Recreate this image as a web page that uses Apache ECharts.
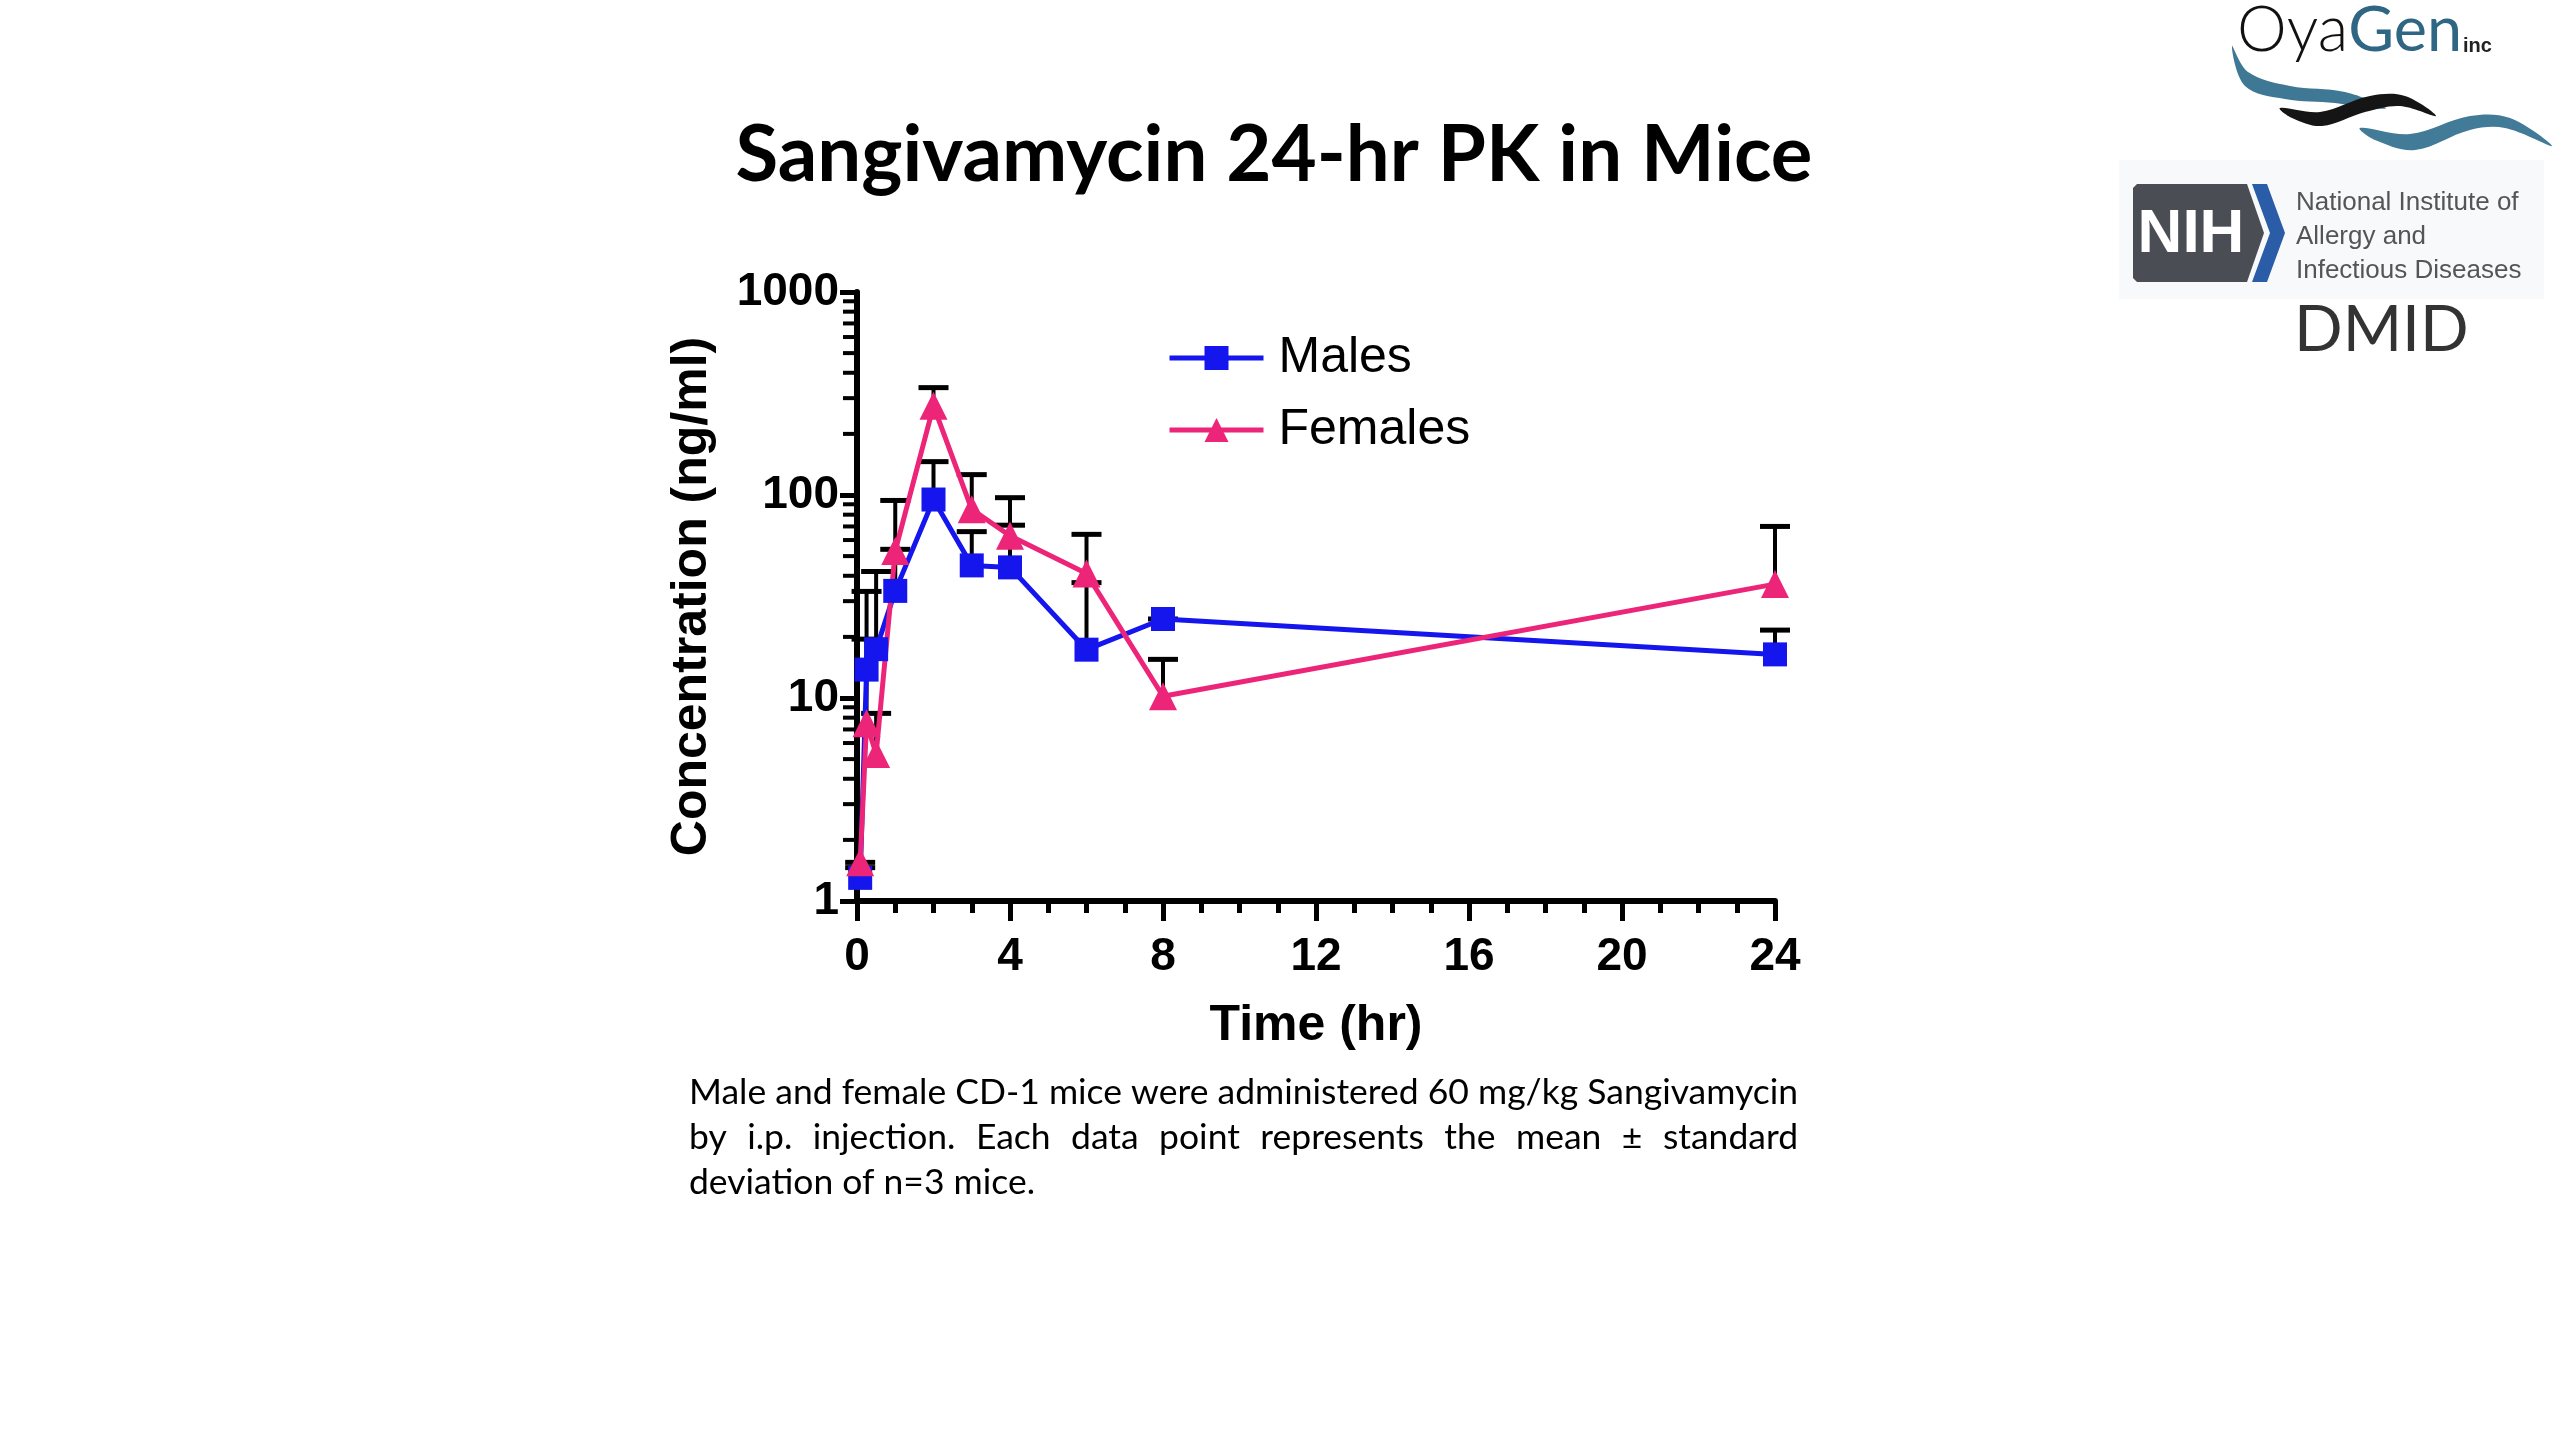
<!DOCTYPE html>
<html><head><meta charset="utf-8">
<script src="https://cdn.jsdelivr.net/npm/echarts@6/dist/echarts.min.js"></script>
<style>html,body{margin:0;padding:0;background:#fff}#c{width:2560px;height:1440px}</style>
</head><body><div id="c"></div>
<script>
// ---- data ----
const timeHr      = [0.083, 0.25, 0.5, 1, 2, 3, 4, 6, 8, 24];
const maleMean    = [1.3, 13.8, 17.4, 33.7, 95, 45, 44, 17.3, 24.5, 16.4];
const maleUpper   = [1.46, 33.5, 42, 54, 146, 66, 71, 37, 24.5, 21.6];
const femaleMean  = [1.55, 7.5, 5.3, 53, 275, 85, 63, 41, 10.2, 36.4];
const femaleUpper = [1.55, 19.5, 8.4, 94, 338, 126, 97, 64, 15.5, 70];
const yMinorTicks = [2,3,4,5,6,7,8,9,20,30,40,50,60,70,80,90,200,300,400,500,600,700,800,900];
const seriesNames = ['Males', 'Females'];

const titleText = 'Sangivamycin 24-hr PK in Mice';
const captionLines = [
  'Male and female CD-1 mice were administered 60 mg/kg Sangivamycin',
  'by i.p. injection. Each data point represents the mean \u00b1 standard',
  'deviation of n=3 mice.'
];

const BLUE = '#1515ee', PINK = '#ec2579';

const ctx = document.createElement('canvas').getContext('2d');
function textW(s, font) { ctx.font = font; return ctx.measureText(s).width; }

const graphics = [];
// Title
const titleFs = 100 * 1077 / textW(titleText, 'bold 100px Lato');
graphics.push({type:'text', x:1274, y:156, style:{text:titleText, fontFamily:'Lato', fontWeight:'bold', fontSize:titleFs, fill:'#000', align:'center', verticalAlign:'middle'}});

// Caption (justified)
const capL = 689, capR = 1798;
const capFs = 100 * (capR - capL) / textW(captionLines[0], '100px Lato');
const capMid = [1093, 1138, 1183];
captionLines.forEach((line, li) => {
  const font = capFs + 'px Lato';
  if (li === captionLines.length - 1) {
    graphics.push({type:'text', x:capL, y:capMid[li], style:{text:line, fontFamily:'Lato', fontSize:capFs, fill:'#000', align:'left', verticalAlign:'middle'}});
    return;
  }
  const words = line.split(' ');
  const wsum = words.reduce((a, w) => a + textW(w, font), 0);
  const gap = (capR - capL - wsum) / (words.length - 1);
  let x = capL;
  words.forEach(w => {
    graphics.push({type:'text', x:x, y:capMid[li], style:{text:w, fontFamily:'Lato', fontSize:capFs, fill:'#000', align:'left', verticalAlign:'middle'}});
    x += textW(w, font) + gap;
  });
});

// OyaGen logo
graphics.push({type:'polygon', shape:{points:[[2232,46],[2248,72],[2290,86],[2345,92],[2386,108],[2370,108],[2335,103],[2285,99],[2245,86]], smooth:0.35}, style:{fill:'#3f7894'}});
graphics.push({type:'polygon', shape:{points:[[2280,108],[2320,112],[2370,96],[2405,96],[2436,116],[2400,106],[2365,112],[2322,126],[2292,118]], smooth:0.35}, style:{fill:'#151515'}});
graphics.push({type:'polygon', shape:{points:[[2360,128],[2410,134],[2470,116],[2510,118],[2552,146],[2505,128],[2470,130],[2415,150],[2375,140]], smooth:0.35}, style:{fill:'#427b97'}});
const wOya = textW('Oya', '300 100px Lato'), wGen = textW('Gen', '100px Lato');
const oyaFs = 100 * 225 / (wOya + wGen);
const genX = 2237 + wOya * oyaFs / 100;
graphics.push({type:'text', x:2237, y:31, style:{text:'Oya', fontFamily:'Lato', fontWeight:300, fontSize:oyaFs, fill:'#111', verticalAlign:'middle'}});
graphics.push({type:'text', x:genX, y:31, style:{text:'Gen', fontFamily:'Lato', fontWeight:'normal', fontSize:oyaFs, fill:'#2f6683', verticalAlign:'middle'}});
graphics.push({type:'text', x:2463, y:46, style:{text:'inc', fontFamily:'Liberation Sans', fontWeight:'bold', fontSize:20, fill:'#222', verticalAlign:'middle'}});

// NIH logo
graphics.push({type:'rect', shape:{x:2119, y:160, width:425, height:139}, style:{fill:'#f7f9fb'}});
graphics.push({type:'polygon', shape:{points:[[2133,188],[2137,184],[2247,184],[2264,233],[2247,282],[2137,282],[2133,278]]}, style:{fill:'#4b4d55'}});
graphics.push({type:'polygon', shape:{points:[[2252,184],[2267,184],[2285,233],[2267,282],[2252,282],[2270,233]]}, style:{fill:'#2a5ca8'}});
graphics.push({type:'text', x:2191, y:235, style:{text:'NIH', fontFamily:'Liberation Sans', fontWeight:'bold', fontSize:62, fill:'#fff', align:'center', verticalAlign:'middle'}});
['National Institute of', 'Allergy and', 'Infectious Diseases'].forEach((t, i) => {
  graphics.push({type:'text', x:2296, y:[203, 237, 271][i], style:{text:t, fontFamily:'Liberation Sans', fontSize:26, fill:'#555', align:'left', verticalAlign:'middle'}});
});
graphics.push({type:'text', x:2294, y:330, style:{text:'DMID', fontFamily:'Lato', fontSize:64, fill:'#333', align:'left', verticalAlign:'middle'}});

const errData = (mean, up) => timeHr.map((t, i) => [t, mean[i], up[i]]);
function errRender(params, api) {
  const t = api.value(0), m = api.value(1), u = api.value(2);
  const p0 = api.coord([t, m]), p1 = api.coord([t, u]);
  return {type:'group', children:[
    {type:'line', shape:{x1:p0[0], y1:p0[1], x2:p1[0], y2:p1[1]}, style:{stroke:'#000', lineWidth:4}},
    {type:'line', shape:{x1:p1[0]-15, y1:p1[1], x2:p1[0]+15, y2:p1[1]}, style:{stroke:'#000', lineWidth:5}}
  ]};
}

const chart = echarts.init(document.getElementById('c'), null, {renderer:'canvas'});
chart.setOption({
  animation:false,
  backgroundColor:'#fff',
  grid:{left:857, right:785, top:292, bottom:539, containLabel:false},
  legend:{data:seriesNames, orient:'vertical', left:1162, top:328, itemWidth:94, itemHeight:30, itemGap:22,
    lineStyle:{width:5},
    textStyle:{fontFamily:'Liberation Sans', fontSize:50, color:'#000', padding:[0,0,0,10]}},
  xAxis:{type:'value', min:0, max:24, interval:4,
    name:'Time (hr)', nameLocation:'middle', nameGap:100,
    nameTextStyle:{fontFamily:'Liberation Sans', fontWeight:'bold', fontSize:50, color:'#000'},
    axisLine:{show:true, lineStyle:{color:'#000', width:6}},
    axisTick:{show:true, length:20, lineStyle:{color:'#000', width:5}},
    minorTick:{show:true, splitNumber:4, length:12, lineStyle:{color:'#000', width:5}},
    splitLine:{show:false}, minorSplitLine:{show:false},
    axisLabel:{fontFamily:'Liberation Sans', fontWeight:'bold', fontSize:46, color:'#000', margin:33}},
  yAxis:{type:'log', logBase:10, min:1, max:1000,
    name:'Concentration (ng/ml)', nameLocation:'middle', nameGap:140,
    nameTextStyle:{fontFamily:'Liberation Sans', fontWeight:'bold', fontSize:50, color:'#000'},
    axisLine:{show:true, lineStyle:{color:'#000', width:6}},
    axisTick:{show:true, length:17, lineStyle:{color:'#000', width:5}},
    splitLine:{show:false},
    axisLabel:{fontFamily:'Liberation Sans', fontWeight:'bold', fontSize:46, color:'#000', margin:18,
      formatter:v => String(Math.round(v))}},
  series:[
    {type:'custom', name:'yMinor', silent:true, clip:false, z:5,
      data:yMinorTicks.map(v => [0, v]),
      renderItem:(params, api) => {
        const p = api.coord([0, api.value(1)]);
        return {type:'line', shape:{x1:p[0]-3, y1:p[1], x2:p[0]-14, y2:p[1]}, style:{stroke:'#000', lineWidth:4}};
      }},
    {type:'custom', name:'maleErr', silent:true, clip:false, z:1, data:errData(maleMean, maleUpper), renderItem:errRender, encode:{x:0, y:[1,2]}},
    {type:'custom', name:'femaleErr', silent:true, clip:false, z:1, data:errData(femaleMean, femaleUpper), renderItem:errRender, encode:{x:0, y:[1,2]}},
    {type:'line', name:'Males', data:timeHr.map((t, i) => [t, maleMean[i]]), symbol:'rect', symbolSize:24, showAllSymbol:true,
      lineStyle:{color:BLUE, width:5}, itemStyle:{color:BLUE}, z:3},
    {type:'line', name:'Females', data:timeHr.map((t, i) => [t, femaleMean[i]]), symbol:'triangle', symbolSize:28, showAllSymbol:true,
      lineStyle:{color:PINK, width:5}, itemStyle:{color:PINK}, z:3}
  ],
  graphic:graphics
});
</script></body></html>
